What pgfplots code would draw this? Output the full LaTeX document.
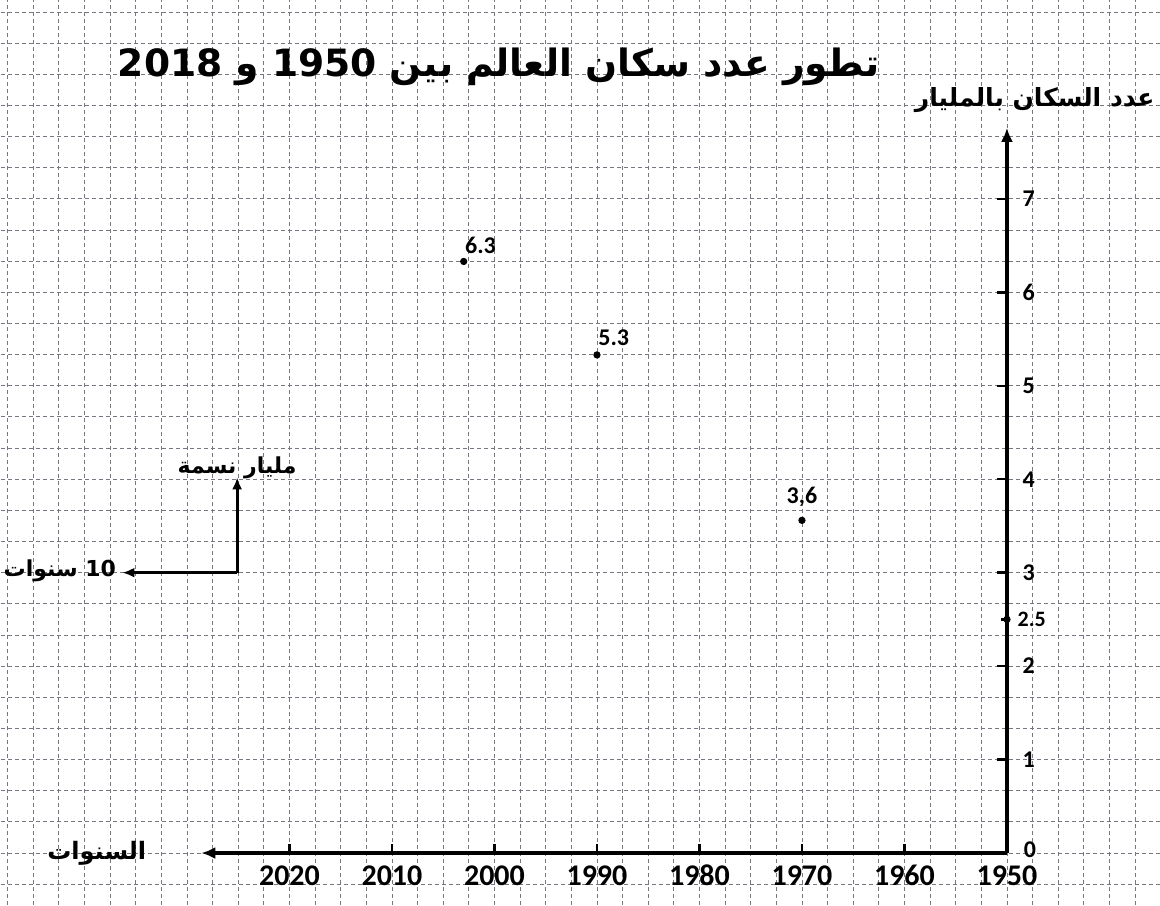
\documentclass[border=0pt]{standalone}
\usepackage{pgfplots}
\pgfplotsset{compat=1.18}
\usepackage{fontspec}
\setmainfont{Carlito}
\newfontfamily\arabicfont[Script=Arabic]{DejaVu Sans}
\usetikzlibrary{arrows.meta}
\TeXXeTstate=1
\definecolor{gridc}{RGB}{125,116,130}
\begin{document}
\begin{tikzpicture}
\begin{axis}[
  scale only axis, width=580pt, height=452.5pt,
  x dir=reverse,
  xmin=1935.07, xmax=2048.24, ymin=-0.556, ymax=9.128,
  axis line style={draw=none},
  xtick={1937.5,1940,...,2047.6},
  ytick={-0.333333,0,...,9.1},
  xticklabels={}, yticklabels={},
  major tick length=0pt,
  grid=major,
  major grid style={gridc, line width=0.42pt, dash pattern=on 2.2pt off 1.3pt},
  clip=false,
]
% axes
\draw[line width=2pt, -{Latex[length=7pt,width=6pt]}] (axis cs:1950,0) -- (axis cs:2028.6,0);
\draw[line width=2pt, -{Latex[length=7pt,width=6pt]}] (axis cs:1950,0) -- (axis cs:1950,7.76);
% x ticks
\pgfplotsinvokeforeach{1960,1970,1980,1990,2000,2010,2020}{
  \draw[line width=1.2pt] (axis cs:#1,0) -- (axis cs:#1,0.1);
  \node[anchor=base, font=\fontsize{15}{16}\selectfont\bfseries, inner sep=0pt] at (axis cs:#1,-0.345) {#1};
}
\node[anchor=base, font=\fontsize{15}{16}\selectfont\bfseries, inner sep=0pt] at (axis cs:1950,-0.345) {1950};
% y ticks
\pgfplotsinvokeforeach{1,2,3,4,5,6,7}{
  \draw[line width=1.2pt] (axis cs:1950,#1) -- (axis cs:1951,#1);
  \node[anchor=west, font=\fontsize{12}{13}\selectfont\bfseries, inner sep=0pt] at (axis cs:1948.5,#1) {#1};
}
\node[anchor=base west, font=\fontsize{12}{13}\selectfont\bfseries, inner sep=0pt] at (axis cs:1948.4,-0.05) {0};
\node[anchor=west, font=\fontsize{11}{12}\selectfont\bfseries, inner sep=0pt] at (axis cs:1949.0,2.5) {2.5};
\draw[line width=1.2pt] (axis cs:1950,2.5) -- (axis cs:1950.6,2.5);
% data points
\addplot[only marks, mark=*, mark size=1.6pt, black] coordinates {
  (1970,3.56) (1990,5.33) (2003,6.33) (1950,2.5)
};
\node[anchor=south west, font=\fontsize{12}{13}\selectfont\bfseries, inner sep=0pt] at (axis cs:2002.9,6.41) {6.3};
\node[anchor=south west, font=\fontsize{12}{13}\selectfont\bfseries, inner sep=0pt] at (axis cs:1989.9,5.43) {5.3};
\node[anchor=south, font=\fontsize{12}{13}\selectfont\bfseries, inner sep=0pt] at (axis cs:1970,3.7) {3,6};
% title
\node[font=\arabicfont\fontsize{18.8}{22}\selectfont\bfseries, inner sep=0pt] at (axis cs:1999.6,8.41)
  {\beginR تطور عدد سكان العالم بين \beginL1950\endL{} و \beginL2018\endL\endR};
% y label
\node[font=\arabicfont\fontsize{12.5}{14}\selectfont\bfseries] at (axis cs:1947.3,8.06)
  {\beginR عدد السكان بالمليار\endR};
% x label
\node[font=\arabicfont\fontsize{12}{14}\selectfont\bfseries] at (axis cs:2038.8,0.0)
  {\beginR السنوات\endR};
% unit key
\draw[line width=1.5pt, -{Latex[length=6pt,width=5pt]}] (axis cs:2025.1,3) -- (axis cs:2025.1,4.02);
\draw[line width=1.5pt, -{Latex[length=6pt,width=5pt]}] (axis cs:2025.1,3) -- (axis cs:2036.3,3);
\node[font=\arabicfont\fontsize{11}{13}\selectfont\bfseries] at (axis cs:2025.1,4.12)
  {\beginR مليار نسمة\endR};
\node[font=\arabicfont\fontsize{11}{13}\selectfont\bfseries] at (axis cs:2042.4,3.02)
  {\beginR 10 سنوات\endR};
\end{axis}
\pgfresetboundingbox
\useasboundingbox (current axis.south west) rectangle (current axis.north east);
\end{tikzpicture}
\end{document}
